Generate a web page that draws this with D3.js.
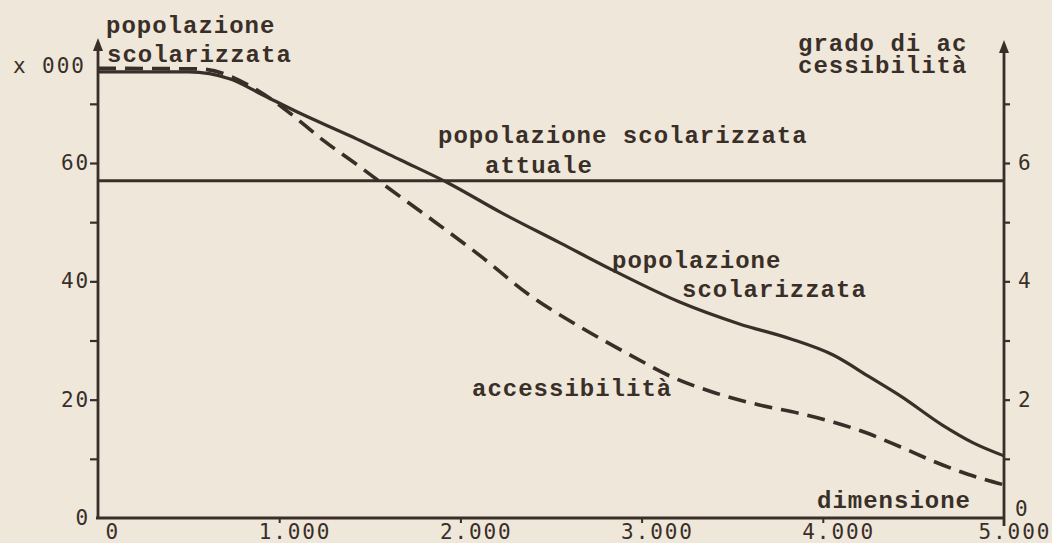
<!DOCTYPE html>
<html>
<head>
<meta charset="utf-8">
<script src="https://cdn.jsdelivr.net/npm/d3@7"></script>
<style>
  html, body { margin: 0; padding: 0; background: #eee7da; }
  svg { display: block; }
  .tw { font-family: "Liberation Mono", "DejaVu Sans Mono", monospace; font-weight: bold; font-size: 24px; letter-spacing: 1px; fill: #3a2f28; }
  .num { font-family: "DejaVu Sans Mono", monospace; font-size: 21px; letter-spacing: 1.9px; fill: #3a2f28; }
</style>
</head>
<body>
<div id="chart"></div>
<script>
// dimensione (x) and popolazione scolarizzata (x 000)
var dimPop = [0, 500, 730, 910, 1115, 1390, 1670, 1940, 2220, 2550, 2840, 3210, 3540, 3820, 4060, 4260, 4430, 4660, 4830, 5000];
var popValues = [75.4, 75.4, 74.2, 71.5, 68.4, 64.6, 60.5, 56.5, 51.7, 46.5, 41.9, 36.5, 32.8, 30.3, 27.5, 23.8, 20.6, 15.7, 12.7, 10.5];

// dimensione and grado di accessibilita (right axis)
var dimAcc = [0, 560, 880, 1060, 1240, 1430, 1610, 1830, 2110, 2380, 2660, 2940, 3170, 3390, 3650, 3870, 4060, 4240, 4430, 4610, 4800, 5000];
var accValues = [7.60, 7.59, 7.23, 6.84, 6.39, 5.97, 5.56, 5.07, 4.43, 3.77, 3.23, 2.75, 2.38, 2.13, 1.91, 1.77, 1.62, 1.44, 1.20, 0.96, 0.74, 0.56];

// popolazione scolarizzata attuale
var popAttuale = 57;

// ticks
var xTicks = [0, 1000, 2000, 3000, 4000, 5000];
var yLeftTicks = [10, 20, 30, 40, 50, 60, 70];
var yLeftLabels = [0, 20, 40, 60];
var yRightTicks = [1, 2, 3, 4, 5, 6, 7];
var yRightLabels = [2, 4, 6];

var ink = "#3a2f28";
var width = 1052, height = 543;

var svg = d3.select("#chart").append("svg")
  .attr("width", width)
  .attr("height", height);

var x = d3.scaleLinear().domain([0, 5000]).range([98, 1004]);
var y = d3.scaleLinear().domain([0, 60]).range([518, 163]);
var yR = d3.scaleLinear().domain([0, 6]).range([518, 163]);

var itFormat = d3.formatLocale({decimal: ",", thousands: ".", grouping: [3], currency: ["", ""]}).format(",");

// left axis ticks
var gL = svg.append("g").attr("transform", "translate(" + x(0) + ",0)")
  .call(d3.axisLeft(y).tickValues(yLeftTicks).tickSize(8).tickFormat(""));
gL.select(".domain").remove();
gL.selectAll("line").attr("stroke", ink).attr("stroke-width", 2.2);

// right axis ticks
var gR = svg.append("g").attr("transform", "translate(" + x(5000) + ",0)")
  .call(d3.axisRight(yR).tickValues(yRightTicks).tickSize(6).tickFormat(""));
gR.select(".domain").remove();
gR.selectAll("line").attr("stroke", ink).attr("stroke-width", 2.2);

// bottom axis ticks + labels
var gB = svg.append("g").attr("transform", "translate(0," + y(0) + ")")
  .call(d3.axisBottom(x).tickValues(xTicks).tickSize(5).tickFormat(itFormat));
gB.select(".domain").remove();
gB.selectAll("line").attr("stroke", ink).attr("stroke-width", 2)
  .attr("display", function(d) { return (d === 0 || d === 5000) ? "none" : null; });
gB.selectAll("text")
  .attr("class", "num")
  .attr("fill", ink)
  .attr("y", null).attr("dy", null)
  .attr("transform", "translate(0,21)")
  .attr("text-anchor", "start")
  .attr("x", function(d) { return d === 0 ? 7 : (d === 5000 ? -26 : -21); });

// left labels
svg.selectAll(".lbl-left").data(yLeftLabels).enter().append("text")
  .attr("class", "num lbl-left")
  .attr("text-anchor", "end")
  .attr("x", 90)
  .attr("y", function(d) { return y(d) + 7; })
  .text(function(d) { return d; });

svg.append("text").attr("class", "num").attr("x", 13).attr("y", 73).text("x 000");

// right labels
svg.selectAll(".lbl-right").data(yRightLabels).enter().append("text")
  .attr("class", "num lbl-right")
  .attr("x", 1018)
  .attr("y", function(d) { return yR(d) + 7; })
  .text(function(d) { return d; });
svg.append("text").attr("class", "num").attr("x", 1015).attr("y", 516).text("0");

// axis lines with arrows
function arrowAxis(px, yTop, yBottom) {
  svg.append("line")
    .attr("x1", px).attr("x2", px)
    .attr("y1", yBottom).attr("y2", yTop + 8)
    .attr("stroke", ink).attr("stroke-width", 2.8);
  svg.append("path")
    .attr("d", "M" + (px - 5) + "," + (yTop + 13) + "L" + px + "," + yTop + "L" + (px + 5) + "," + (yTop + 13) + "Z")
    .attr("fill", ink);
}
arrowAxis(x(0), 38, y(0) + 1);
arrowAxis(x(5000), 40, y(0) + 8);

svg.append("line")
  .attr("x1", x(0) - 2).attr("x2", x(5000))
  .attr("y1", y(0)).attr("y2", y(0))
  .attr("stroke", ink).attr("stroke-width", 2.8);

// popolazione scolarizzata attuale
svg.append("line")
  .attr("x1", x(0)).attr("x2", x(5000))
  .attr("y1", y(popAttuale)).attr("y2", y(popAttuale))
  .attr("stroke", ink).attr("stroke-width", 3);

// curves
var popLine = d3.line()
  .x(function(d, i) { return x(dimPop[i]); })
  .y(function(d) { return y(d); })
  .curve(d3.curveMonotoneX);

var accLine = d3.line()
  .x(function(d, i) { return x(dimAcc[i]); })
  .y(function(d) { return yR(d); })
  .curve(d3.curveMonotoneX);

svg.append("path")
  .datum(popValues)
  .attr("d", popLine)
  .attr("fill", "none")
  .attr("stroke", ink)
  .attr("stroke-width", 3.2);

svg.append("path")
  .datum(accValues)
  .attr("d", accLine)
  .attr("fill", "none")
  .attr("stroke", ink)
  .attr("stroke-width", 3.6)
  .attr("stroke-dasharray", "18,9");

// typed labels
var labels = [
  {t: "popolazione", x: 106, y: 33},
  {t: "scolarizzata", x: 107, y: 62},
  {t: "grado di ac", x: 798, y: 51},
  {t: "cessibilità", x: 798, y: 73},
  {t: "popolazione scolarizzata", x: 438, y: 143},
  {t: "attuale", x: 485, y: 173},
  {t: "popolazione", x: 612, y: 268},
  {t: "scolarizzata", x: 682, y: 297},
  {t: "accessibilità", x: 472, y: 396},
  {t: "dimensione", x: 817, y: 508}
];

svg.selectAll(".tw").data(labels).enter().append("text")
  .attr("class", "tw")
  .attr("x", function(d) { return d.x; })
  .attr("y", function(d) { return d.y; })
  .text(function(d) { return d.t; });
</script>
</body>
</html>
